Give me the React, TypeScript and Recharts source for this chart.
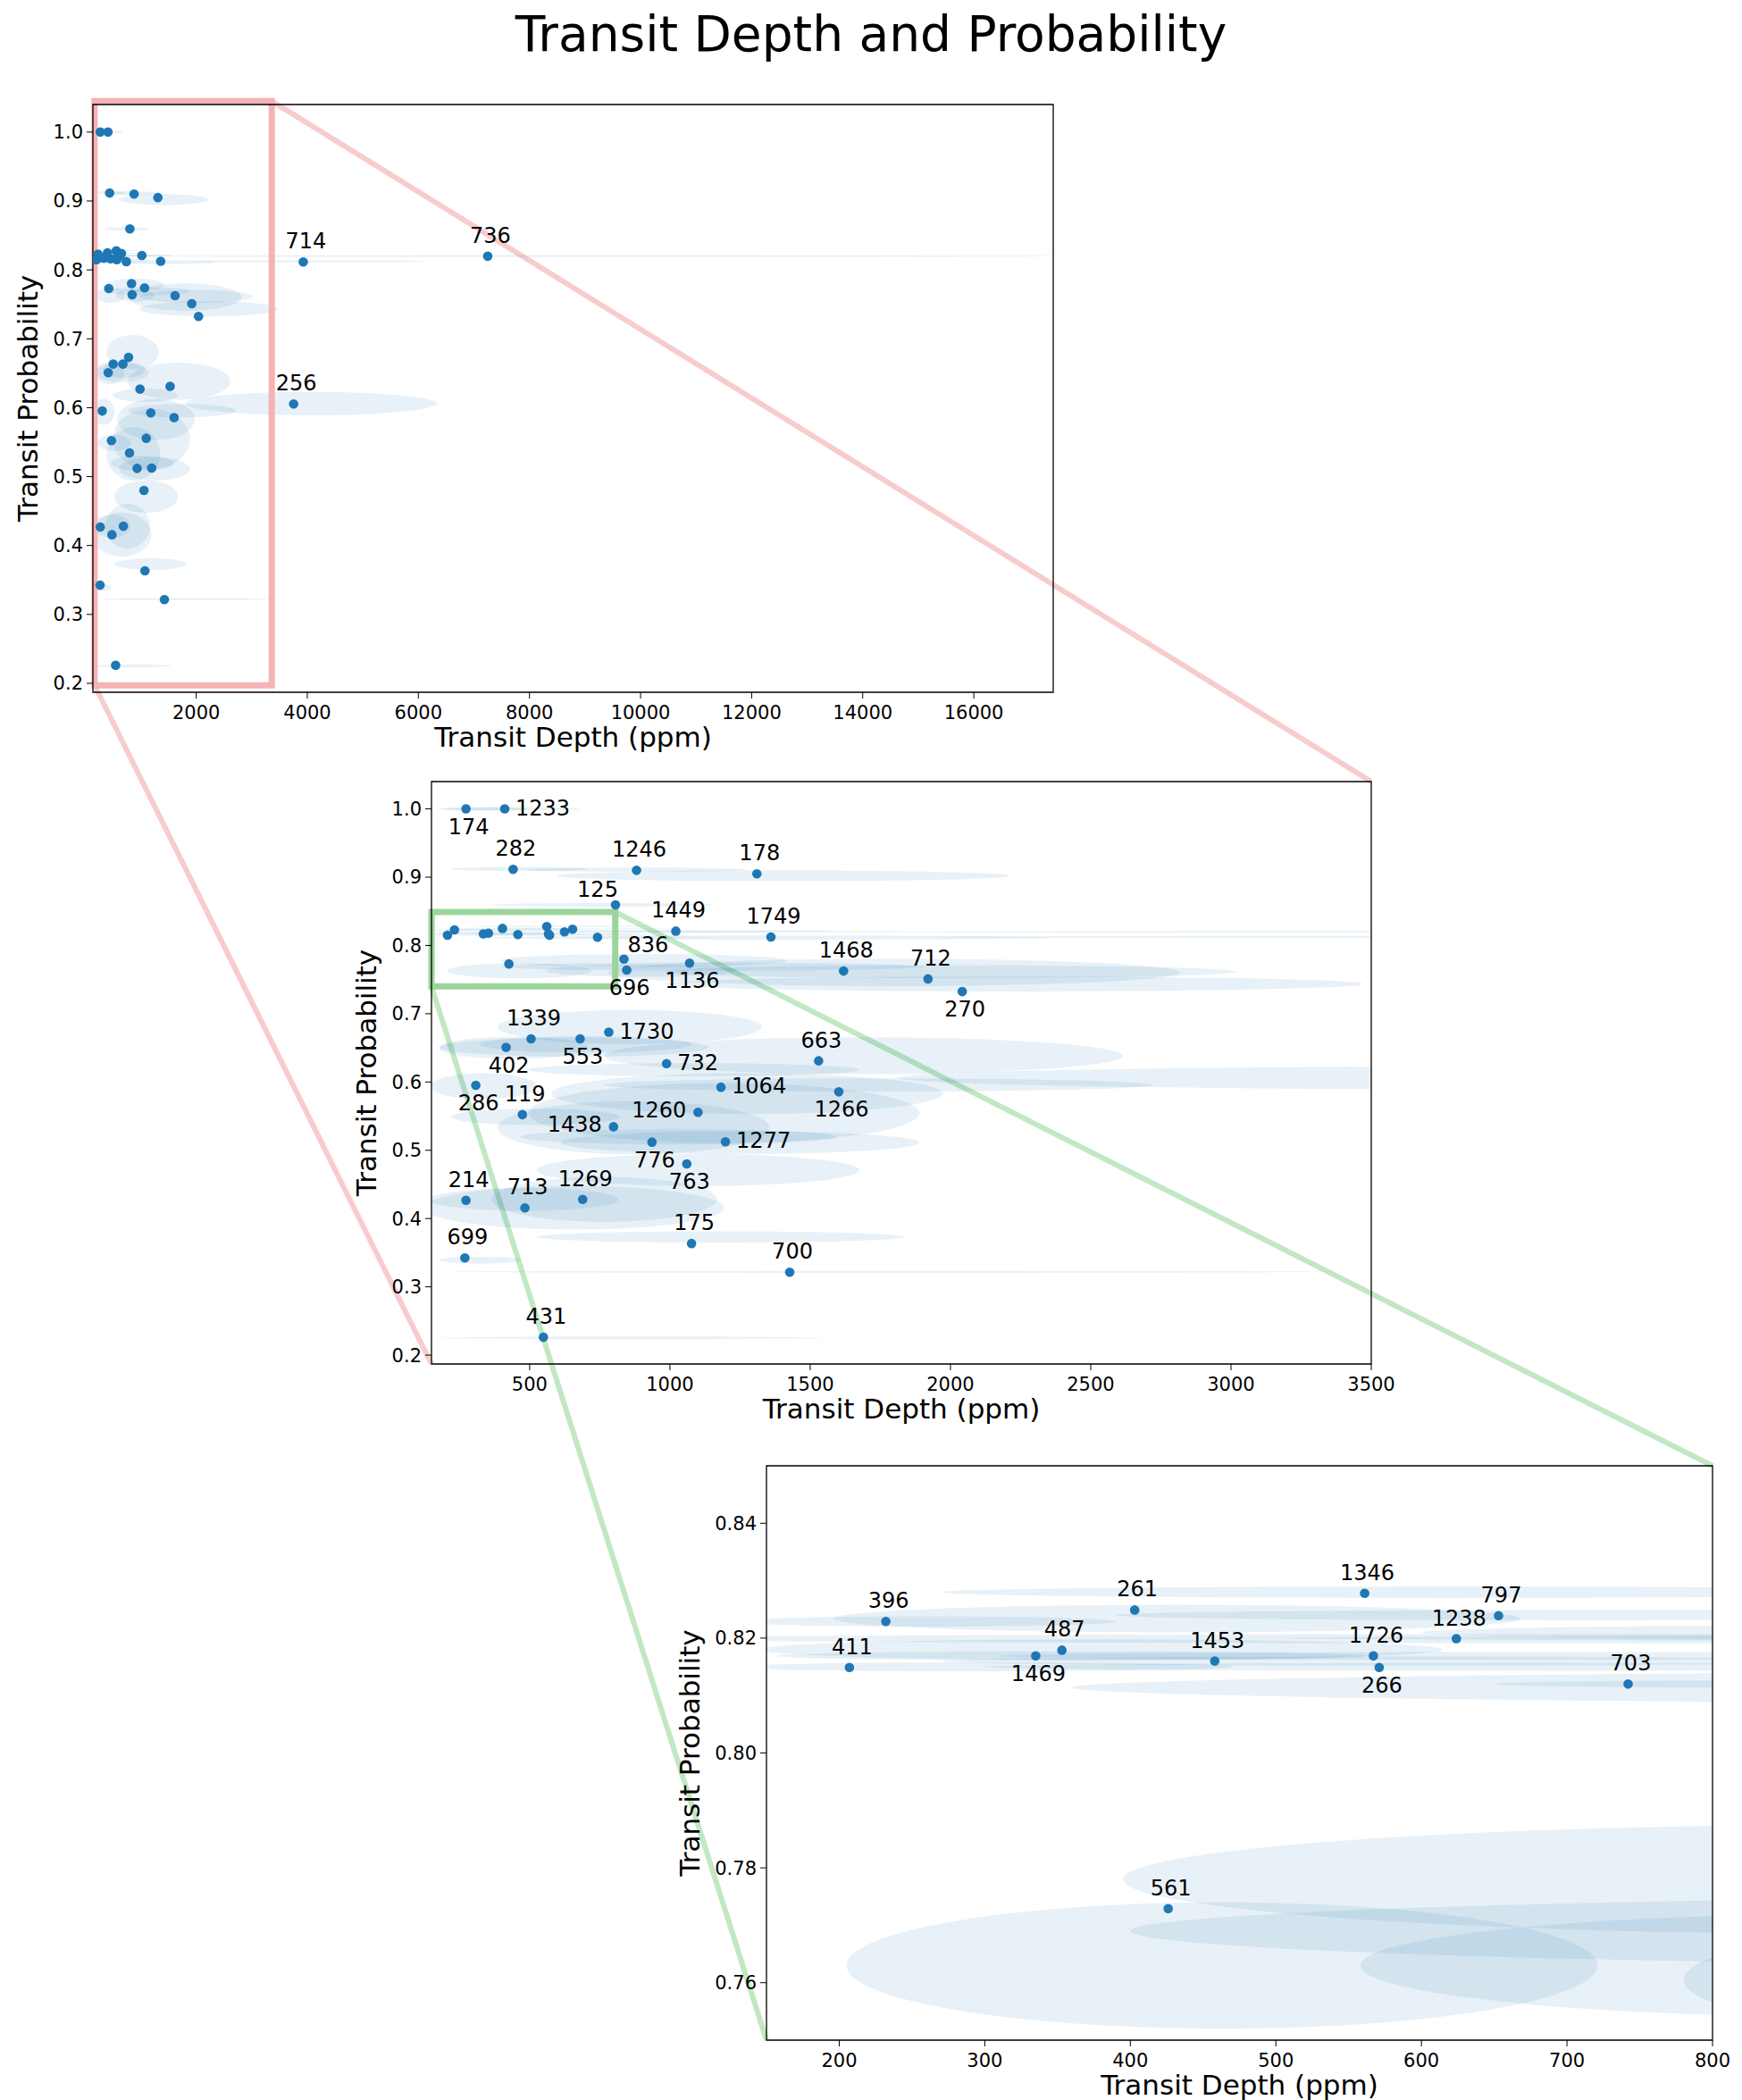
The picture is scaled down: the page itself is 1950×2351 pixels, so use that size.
import { ScatterChart, Scatter, XAxis, YAxis, ReferenceArea } from "recharts";

// planet ids, measured values
const IDS = [
  174, 1233, 282, 1246, 178, 125, 1449, 1749, 836, 696, 1136, 1468, 712, 270,
  1339, 1730, 402, 553, 732, 663, 1064, 1266, 286, 119, 1260, 1438, 776, 1277,
  763, 214, 713, 1269, 175, 699, 700, 431, 396, 261, 1346, 797, 1238, 411, 487,
  1469, 1453, 1726, 266, 703, 561, 714, 736, 256,
];
const DEPTH = [
  273, 411, 441, 881, 1310, 806, 1021, 1360, 836, 846, 1070, 1619, 1920, 2042,
  505, 782, 416, 680, 988, 1530, 1182, 1602, 308, 474, 1100, 799, 936, 1198,
  1060, 273, 483, 689, 1077, 269, 1427, 549, 232, 403, 561, 653, 624, 207, 353,
  335, 458, 567, 571, 742, 426, 3927, 7248, 3754,
];
const PROB = [
  1.0, 1.0, 0.9115, 0.91, 0.905, 0.8595, 0.821, 0.8124, 0.78, 0.764, 0.774,
  0.7625, 0.751, 0.7324, 0.6633, 0.673, 0.6507, 0.6633, 0.627, 0.631, 0.5924,
  0.5856, 0.5952, 0.5522, 0.5556, 0.5345, 0.5119, 0.5124, 0.48, 0.4268, 0.4156,
  0.428, 0.3634, 0.3424, 0.3214, 0.2261, 0.8229, 0.8249, 0.8278, 0.8239, 0.8199,
  0.8149, 0.8179, 0.8169, 0.816, 0.8169, 0.8149, 0.812, 0.7729, 0.8115, 0.8198,
  0.6054,
];

// uncertainty ellipses: centre and half widths
const ELL_DEPTH = [
  330, 440, 465, 880, 1404, 760, 1100, 1360, 905, 900, 1150, 1800, 2000, 2225,
  443, 856, 660, 700, 1086, 1690, 1275, 1743, 335, 520, 1193, 870, 1030, 1250,
  1100, 480, 658, 766, 1180, 323, 1790, 860, 260, 432, 620, 720, 700, 300, 380,
  360, 580, 650, 680, 900, 463, 4047, 9000, 4073,
];
const ELL_HALF_DEPTH = [
  160, 240, 245, 400, 806, 400, 500, 1000, 510, 342, 750, 1020, 1020, 1245, 267,
  472, 480, 380, 590, 924, 697, 977, 190, 300, 697, 485, 565, 640, 575, 337, 535,
  402, 655, 147, 1567, 683, 130, 236, 350, 330, 650, 170, 235, 203, 310, 340,
  380, 250, 258, 2103, 8500, 2263,
];
const ELL_PROB = [
  1.0, 1.0, 0.912, 0.911, 0.902, 0.8595, 0.821, 0.8114, 0.778, 0.763, 0.769,
  0.7605, 0.7615, 0.7436, 0.65, 0.6805, 0.651, 0.655, 0.618, 0.6385, 0.583,
  0.5957, 0.594, 0.549, 0.5545, 0.533, 0.5196, 0.5113, 0.471, 0.428, 0.4158,
  0.428, 0.373, 0.339, 0.322, 0.2253, 0.8229, 0.8234, 0.828, 0.824, 0.8199,
  0.815, 0.818, 0.8169, 0.816, 0.8169, 0.815, 0.812, 0.763, 0.8125, 0.82, 0.606,
];
const ELL_HALF_PROB = [
  0.0025, 0.0025, 0.003, 0.003, 0.008, 0.0025, 0.0015, 0.003, 0.0095, 0.009,
  0.006, 0.02, 0.0095, 0.011, 0.016, 0.025, 0.014, 0.012, 0.0097, 0.027, 0.03,
  0.0097, 0.019, 0.012, 0.044, 0.039, 0.011, 0.0167, 0.0235, 0.0167, 0.032,
  0.033, 0.0083, 0.005, 0.0015, 0.002, 0.0009, 0.0024, 0.001, 0.0009, 0.0008,
  0.0008, 0.0018, 0.0008, 0.0008, 0.0007, 0.0007, 0.0007, 0.011, 0.0017, 0.0015,
  0.017,
];

// where the id label sits relative to its dot (default: above)
const LABEL_BELOW = [174, 696, 1136, 270, 402, 553, 286, 1266, 776, 763, 1469, 266];
const LABEL_RIGHT = [1233, 1730, 732, 1064, 1277];
const LABEL_LEFT = [1260, 1438];

const X1_TICKS = [2000, 4000, 6000, 8000, 10000, 12000, 14000, 16000];
const X2_TICKS = [500, 1000, 1500, 2000, 2500, 3000, 3500];
const X3_TICKS = [200, 300, 400, 500, 600, 700, 800];
const Y12_TICKS = [0.2, 0.3, 0.4, 0.5, 0.6, 0.7, 0.8, 0.9, 1.0];
const Y3_TICKS = [0.76, 0.78, 0.8, 0.82, 0.84];

const FONT = "DejaVu Sans, sans-serif";
const BLUE = "#1f77b4";

const points = IDS.map((id, i) => ({
  id,
  depth: DEPTH[i],
  prob: PROB[i],
  ex: ELL_DEPTH[i],
  erx: ELL_HALF_DEPTH[i],
  ey: ELL_PROB[i],
  ery: ELL_HALF_PROB[i],
}));

type Range = [number, number];
interface Panel {
  plot: { left: number; top: number; width: number; height: number };
  x: Range;
  y: Range;
  xTicks: number[];
  yTicks: number[];
  digits: number;
  inset?: { x: Range; y: Range };
  box?: { x: Range; y: Range; color: string };
}

const P3: Panel = {
  plot: { left: 858, top: 1641, width: 1059, height: 643 },
  x: [150, 800],
  y: [0.75, 0.85],
  xTicks: X3_TICKS,
  yTicks: Y3_TICKS,
  digits: 2,
};
const P2: Panel = {
  plot: { left: 483, top: 875, width: 1052, height: 652 },
  x: [150, 3500],
  y: [0.187, 1.04],
  xTicks: X2_TICKS,
  yTicks: Y12_TICKS,
  digits: 1,
  inset: { x: P3.x, y: P3.y },
  box: { x: [150, 805], y: [0.74, 0.849], color: "#9bd59b" },
};
const P1: Panel = {
  plot: { left: 104, top: 117, width: 1075, height: 658 },
  x: [140, 17430],
  y: [0.187, 1.04],
  xTicks: X1_TICKS,
  yTicks: Y12_TICKS,
  digits: 1,
  inset: { x: P2.x, y: P2.y },
  box: { x: [170, 3360], y: [0.197, 1.045], color: "#f6b2b4" },
};

const YW = 90;
const XH = 60;
const TOP_M = 10;
const RIGHT_M = 40;

const inside = (x: number, y: number, r: { x: Range; y: Range }) =>
  x >= r.x[0] && x <= r.x[1] && y >= r.y[0] && y <= r.y[1];

function labelSpot(id: number) {
  if (id === 125) return { dx: -20, dy: -17, anchor: "middle" };
  if (id === 836) return { dx: 27, dy: -16, anchor: "middle" };
  if (LABEL_BELOW.includes(id)) return { dx: 3, dy: 20, anchor: "middle" };
  if (LABEL_RIGHT.includes(id)) return { dx: 12, dy: -1, anchor: "start" };
  if (LABEL_LEFT.includes(id)) return { dx: -13, dy: -2, anchor: "end" };
  return { dx: 3, dy: -23, anchor: "middle" };
}

// figure pixel of a data point, only used for the inset connector lines
function toFig(p: Panel, x: number, y: number) {
  return [
    p.plot.left + ((x - p.x[0]) / (p.x[1] - p.x[0])) * p.plot.width,
    p.plot.top + ((p.y[1] - y) / (p.y[1] - p.y[0])) * p.plot.height,
  ];
}

const ellipseShape = (p: any) => (
  <ellipse
    cx={p.x + p.width / 2}
    cy={p.y + p.height / 2}
    rx={Math.abs(p.width) / 2}
    ry={Math.abs(p.height) / 2}
    fill={BLUE}
    fillOpacity={0.1}
    clipPath={p.clipPath}
  />
);

function PanelChart({ panel }: { panel: Panel }) {
  const { plot } = panel;
  const shown = points.filter((d) => inside(d.depth, d.prob, panel));
  const labelled = shown.filter((d) => !panel.inset || !inside(d.depth, d.prob, panel.inset));
  const ellipses = points.filter(
    (d) =>
      d.ex + d.erx > panel.x[0] &&
      d.ex - d.erx < panel.x[1] &&
      d.ey + d.ery > panel.y[0] &&
      d.ey - d.ery < panel.y[1]
  );
  const tickStyle = { fontSize: 21, fill: "#000", fontFamily: FONT };

  return (
    <div
      style={{
        position: "absolute",
        left: plot.left - YW,
        top: plot.top - TOP_M,
      }}
    >
      <ScatterChart
        width={YW + plot.width + RIGHT_M}
        height={TOP_M + plot.height + XH}
        margin={{ top: TOP_M, right: RIGHT_M, left: 0, bottom: 0 }}
      >
        <XAxis
          type="number"
          dataKey="depth"
          domain={panel.x}
          ticks={panel.xTicks}
          interval={0}
          allowDataOverflow
          height={XH}
          tick={tickStyle}
          tickSize={7}
          tickMargin={8}
          tickLine={{ stroke: "#000" }}
          axisLine={false}
        />
        <YAxis
          type="number"
          dataKey="prob"
          domain={panel.y}
          ticks={panel.yTicks}
          interval={0}
          allowDataOverflow
          width={YW}
          tick={tickStyle}
          tickSize={7}
          tickMargin={4}
          tickLine={{ stroke: "#000" }}
          axisLine={false}
          tickFormatter={(v: number) => v.toFixed(panel.digits)}
        />
        {ellipses.map((d) => (
          <ReferenceArea
            key={`e${d.id}`}
            x1={d.ex - d.erx}
            x2={d.ex + d.erx}
            y1={d.ey - d.ery}
            y2={d.ey + d.ery}
            ifOverflow="hidden"
            shape={ellipseShape}
          />
        ))}
        <Scatter
          data={shown}
          isAnimationActive={false}
          shape={(p: any) => <circle cx={p.cx} cy={p.cy} r={5.3} fill={BLUE} />}
        />
        <Scatter
          data={labelled}
          isAnimationActive={false}
          shape={(p: any) => {
            const s = labelSpot(p.payload.id);
            return (
              <text
                x={p.cx + s.dx}
                y={p.cy + s.dy}
                textAnchor={s.anchor}
                dominantBaseline="central"
                fontSize={24}
                fontFamily={FONT}
                fill="#000"
              >
                {p.payload.id}
              </text>
            );
          }}
        />
        {panel.box && (
          <ReferenceArea
            x1={panel.box.x[0]}
            x2={panel.box.x[1]}
            y1={panel.box.y[0]}
            y2={panel.box.y[1]}
            ifOverflow="visible"
            fill="none"
            stroke={panel.box.color}
            strokeWidth={7}
          />
        )}
        <ReferenceArea
          x1={panel.x[0]}
          x2={panel.x[1]}
          y1={panel.y[0]}
          y2={panel.y[1]}
          ifOverflow="visible"
          fill="none"
          stroke="#000"
          strokeWidth={1.3}
        />
      </ScatterChart>
    </div>
  );
}

function AxisTitles({ panel }: { panel: Panel }) {
  const { plot } = panel;
  const cx = plot.left + plot.width / 2;
  const cy = plot.top + plot.height / 2;
  // wider tick labels push the y title further out
  const lx = plot.left - 62 - (panel.digits - 1) * 13;
  return (
    <g fontFamily={FONT} fontSize={31} fill="#000" textAnchor="middle">
      <text x={cx} y={plot.top + plot.height + 61}>
        Transit Depth (ppm)
      </text>
      <text x={lx} y={cy} transform={`rotate(-90 ${lx} ${cy})`}>
        Transit Probability
      </text>
    </g>
  );
}

function Connectors() {
  const r1 = toFig(P1, P1.box!.x[1], P1.box!.y[1]);
  const r2 = toFig(P1, P1.box!.x[0], P1.box!.y[0]);
  const g1 = toFig(P2, P2.box!.x[1], P2.box!.y[1]);
  const g2 = toFig(P2, P2.box!.x[0], P2.box!.y[0]);
  const red = "#f8cccd";
  const green = "#c2e7c3";
  return (
    <g strokeWidth={6} strokeLinecap="butt">
      <line x1={r1[0]} y1={r1[1]} x2={P2.plot.left + P2.plot.width} y2={P2.plot.top} stroke={red} />
      <line x1={r2[0]} y1={r2[1]} x2={P2.plot.left} y2={P2.plot.top + P2.plot.height} stroke={red} />
      <line x1={g1[0]} y1={g1[1]} x2={P3.plot.left + P3.plot.width} y2={P3.plot.top} stroke={green} />
      <line x1={g2[0]} y1={g2[1]} x2={P3.plot.left} y2={P3.plot.top + P3.plot.height} stroke={green} />
    </g>
  );
}

export default function App() {
  return (
    <div
      style={{
        position: "absolute",
        left: 0,
        top: 0,
        width: 1950,
        height: 2351,
        background: "#fff",
        overflow: "hidden",
      }}
    >
      <svg width={1950} height={2351} style={{ position: "absolute", left: 0, top: 0 }}>
        <Connectors />
        <text x={975} y={57} textAnchor="middle" fontFamily={FONT} fontSize={55} fill="#000">
          Transit Depth and Probability
        </text>
        <AxisTitles panel={P1} />
        <AxisTitles panel={P2} />
        <AxisTitles panel={P3} />
      </svg>
      <PanelChart panel={P1} />
      <PanelChart panel={P2} />
      <PanelChart panel={P3} />
    </div>
  );
}
